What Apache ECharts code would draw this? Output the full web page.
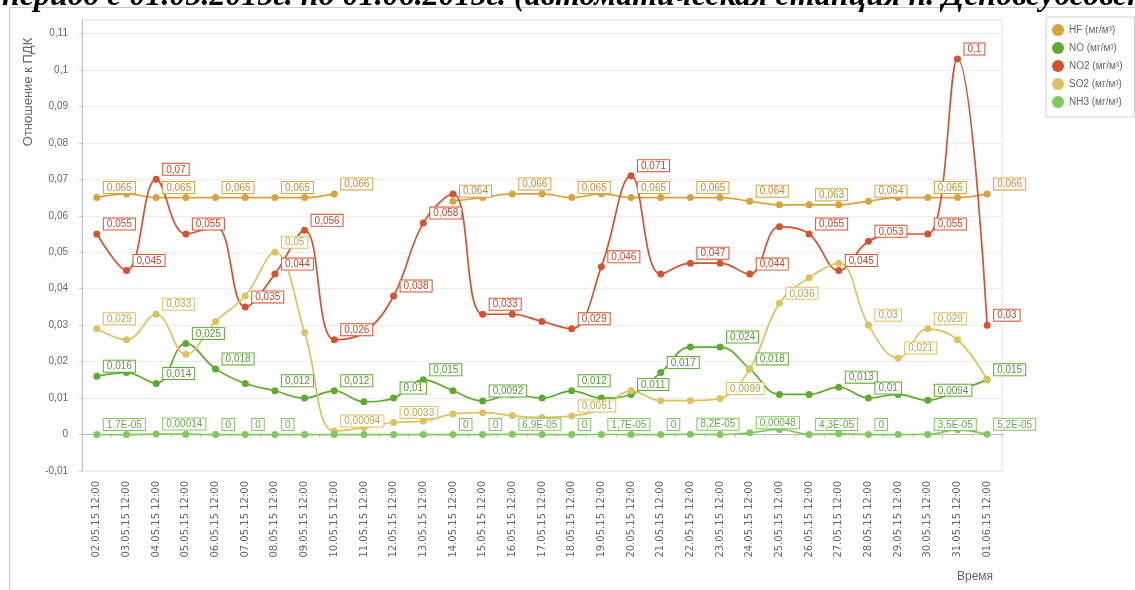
<!DOCTYPE html>
<html>
<head>
<meta charset="utf-8">
<title>Отношение к ПДК</title>
<style>
  html, body { margin: 0; padding: 0; background: #fff; }
  #chart { width: 1135px; height: 590px; }
</style>
</head>
<body>
<div id="chart"></div>
<script src="https://cdn.jsdelivr.net/npm/echarts@6/dist/echarts.min.js"></script>
<script>
// -----------------------------------------
// DATA
// -----------------------------------------
const categories = [
  '02.05.15 12:00', '03.05.15 12:00', '04.05.15 12:00', '05.05.15 12:00', '06.05.15 12:00',
  '07.05.15 12:00', '08.05.15 12:00', '09.05.15 12:00', '10.05.15 12:00', '11.05.15 12:00',
  '12.05.15 12:00', '13.05.15 12:00', '14.05.15 12:00', '15.05.15 12:00', '16.05.15 12:00',
  '17.05.15 12:00', '18.05.15 12:00', '19.05.15 12:00', '20.05.15 12:00', '21.05.15 12:00',
  '22.05.15 12:00', '23.05.15 12:00', '24.05.15 12:00', '25.05.15 12:00', '26.05.15 12:00',
  '27.05.15 12:00', '28.05.15 12:00', '29.05.15 12:00', '30.05.15 12:00', '31.05.15 12:00',
  '01.06.15 12:00'
];

// null = no measurement (line is broken there)
const hfValues = [0.065, 0.066, 0.065, 0.065, 0.065, 0.065, 0.065, 0.065, 0.066, null,
  null, null, 0.064, 0.065, 0.066, 0.066, 0.065, 0.066, 0.065, 0.065,
  0.065, 0.065, 0.064, 0.063, 0.063, 0.063, 0.064, 0.065, 0.065, 0.065, 0.066];
const noValues = [0.016, 0.017, 0.014, 0.025, 0.018, 0.014, 0.012, 0.010, 0.012, 0.009,
  0.010, 0.015, 0.012, 0.0092, 0.011, 0.010, 0.012, 0.010, 0.011, 0.017,
  0.024, 0.024, 0.018, 0.011, 0.011, 0.013, 0.010, 0.011, 0.0094, 0.012, 0.015];
const no2Values = [0.055, 0.045, 0.070, 0.055, 0.057, 0.035, 0.044, 0.056, 0.026, 0.028,
  0.038, 0.058, 0.066, 0.033, 0.033, 0.031, 0.029, 0.046, 0.071, 0.044,
  0.047, 0.047, 0.044, 0.057, 0.055, 0.045, 0.053, 0.055, 0.055, 0.103, 0.030];
const so2Values = [0.029, 0.026, 0.033, 0.022, 0.031, 0.038, 0.050, 0.028, 0.00094, 0.0019,
  0.0033, 0.0037, 0.0056, 0.006, 0.0052, 0.0047, 0.0051, 0.007, 0.012, 0.0093,
  0.0093, 0.0099, 0.018, 0.036, 0.043, 0.047, 0.030, 0.021, 0.029, 0.026, 0.015];
const nh3Values = [0.000017, 0, 0.00014, 0.0001, 0, 0, 0, 0, 0, 0,
  0, 0, 0, 0, 0.000069, 0, 0, 0.000017, 0, 0,
  0.000082, 0, 0.00048, 0.0014, 0.000043, 0.0002, 0, 0, 0.000035, 0.0013, 0.000052];

// which points carry a value label in the reference
const hfLabels = [0, 2, 4, 6, 8, 12, 14, 16, 18, 20, 22, 24, 26, 28, 30];
const noLabels = [0, 2, 3, 4, 6, 8, 10, 11, 13, 16, 18, 19, 21, 22, 25, 26, 28, 30];
const no2Labels = [0, 1, 2, 3, 5, 6, 7, 8, 10, 11, 13, 16, 17, 18, 20, 22, 24, 25, 26, 28, 29, 30];
const so2Labels = [0, 2, 6, 8, 10, 16, 21, 23, 26, 27, 28];
const nh3Labels = [0, 2, 4, 5, 6, 12, 13, 14, 16, 17, 19, 20, 22, 24, 26, 28, 30];

const yTicks = { min: -0.01, max: 0.1137, step: 0.01 };

const TITLE = 'период с 01.05.2015г. по 01.06.2015г. (автоматическая станция п. Деповсубсовск';

// -----------------------------------------
// HELPERS
// -----------------------------------------
// two significant digits, comma decimal, 1,7E-05 style for tiny values
function fmtValue(v) {
  if (v === 0) return '0';
  if (Math.abs(v) < 1e-4) {
    const parts = v.toExponential(1).split('e');
    const exp = parseInt(parts[1], 10);
    return parts[0].replace('.', ',') + 'E' + (exp < 0 ? '-' : '+') + String(Math.abs(exp)).padStart(2, '0');
  }
  return String(Number(v.toPrecision(2))).replace('.', ',');
}

function fmtTick(v) {
  return String(Number(v.toFixed(3))).replace('.', ',');
}

function makeSeries(name, values, labelIdx, color, textColor) {
  return {
    name: name,
    type: 'line',
    smooth: 0.4,
    symbol: 'circle',
    symbolSize: 7,
    lineStyle: { color: color, width: 1.7 },
    itemStyle: { color: color },
    label: {
      position: 'top',
      align: 'left',
      distance: 2,
      offset: [7, 1],
      fontSize: 10,
      fontFamily: 'Liberation Sans',
      color: textColor,
      backgroundColor: '#fff',
      borderColor: color,
      borderWidth: 1,
      padding: [1, 3, 0, 3],
      formatter: p => fmtValue(p.value)
    },
    data: values.map((v, i) => ({
      value: v,
      label: { show: v !== null && labelIdx.includes(i) }
    }))
  };
}

// -----------------------------------------
// CHART
// -----------------------------------------
const chart = echarts.init(document.getElementById('chart'));

chart.setOption({
  backgroundColor: '#fff',
  animation: false,
  textStyle: { fontFamily: 'Liberation Sans' },
  grid: {
    left: 82, right: 133, top: 20, bottom: 119,
    show: true, borderColor: '#e2e2e2', borderWidth: 1
  },
  legend: {
    orient: 'vertical',
    left: 1046,
    top: 17,
    icon: 'circle',
    itemWidth: 12,
    itemHeight: 12,
    itemGap: 6,
    padding: [7, 12, 9, 6],
    borderColor: '#cfcfcf',
    borderWidth: 1,
    backgroundColor: '#fff',
    textStyle: { fontSize: 10, color: '#666' },
    data: ['HF (мг/м³)', 'NO (мг/м³)', 'NO2 (мг/м³)', 'SO2 (мг/м³)', 'NH3 (мг/м³)']
  },
  xAxis: {
    type: 'category',
    data: categories,
    boundaryGap: true,
    axisLine: { lineStyle: { color: '#b7b7b7' } },
    axisTick: { show: true, length: 3, lineStyle: { color: '#c8c8c8' } },
    axisLabel: {
      rotate: 90, fontSize: 10, fontFamily: 'DejaVu Sans',
      color: '#666', margin: 10, interval: 0
    },
    splitLine: { show: false }
  },
  yAxis: {
    type: 'value',
    min: yTicks.min,
    max: yTicks.max,
    interval: yTicks.step,
    axisLine: { show: true, lineStyle: { color: '#b9c2d4' } },
    axisTick: { show: true, length: 3, lineStyle: { color: '#c8c8c8' } },
    axisLabel: {
      fontSize: 10, color: '#666', margin: 14,
      showMaxLabel: false,
      formatter: fmtTick
    },
    splitLine: { lineStyle: { color: '#ececec' } }
  },
  graphic: [
    {
      type: 'rect',
      shape: { x: 9.5, y: 7.5, width: 1300, height: 800 },
      style: { fill: null, stroke: '#c9c9c9', lineWidth: 1 },
      z: -10
    },
    {
      // page title above the chart, cut by the top edge in the reference
      type: 'text',
      left: 2,
      top: -19,
      style: {
        text: TITLE,
        font: 'italic bold 32px "Liberation Serif"',
        fill: '#000'
      }
    },
    {
      type: 'text',
      x: 28,
      y: 92,
      rotation: Math.PI / 2,
      style: {
        text: 'Отношение к ПДК',
        font: '13px "Liberation Sans"',
        fill: '#666',
        align: 'center',
        verticalAlign: 'middle'
      }
    },
    {
      type: 'text',
      x: 975,
      y: 577,
      style: {
        text: 'Время',
        font: '12px "Liberation Sans"',
        fill: '#666',
        align: 'center',
        verticalAlign: 'middle'
      }
    }
  ],
  series: [
    makeSeries('HF (мг/м³)', hfValues, hfLabels, '#d8a23c', '#c08c34'),
    makeSeries('NO (мг/м³)', noValues, noLabels, '#5eab2f', '#5c9440'),
    makeSeries('NO2 (мг/м³)', no2Values, no2Labels, '#d4532f', '#c04a2e'),
    makeSeries('SO2 (мг/м³)', so2Values, so2Labels, '#dcc35f', '#bba552'),
    makeSeries('NH3 (мг/м³)', nh3Values, nh3Labels, '#80c95c', '#6aa84e')
  ]
});
</script>
</body>
</html>
